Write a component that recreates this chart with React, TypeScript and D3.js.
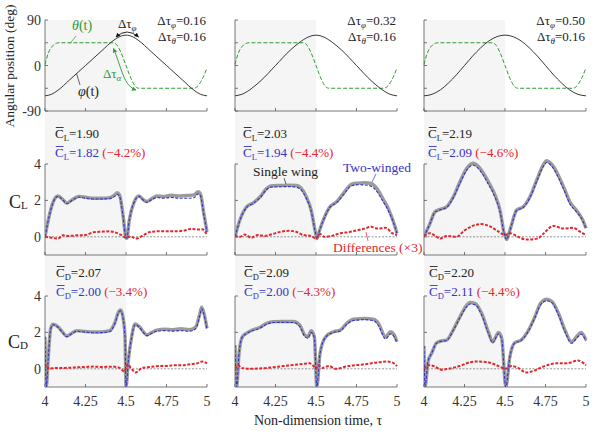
import React from 'react';
import * as d3 from 'd3';

type P = [number, number][];

// ---------- data ----------
const T_TICKS = [4, 4.25, 4.5, 4.75, 5];
const T_LABELS = ['4', '4.25', '4.5', '4.75', '5'];
const ANG_TICKS = [-90, -45, 0, 45, 90];
const ANG_LABELS = ['-90', '', '0', '', '90'];
const F_TICKS = [0, 2, 4];
const F_LABELS = ['0', '2', '4'];

const DTAU_PHI = ['0.16', '0.32', '0.50'];
const DTAU_THETA = ['0.16', '0.16', '0.16'];
const CL_SINGLE_MEAN = ['1.90', '2.03', '2.19'];
const CL_TWO_MEAN = ['1.82', '1.94', '2.09'];
const CL_PCT = ['(\u22124.2%)', '(\u22124.4%)', '(\u22124.6%)'];
const CD_SINGLE_MEAN = ['2.07', '2.09', '2.20'];
const CD_TWO_MEAN = ['2.00', '2.00', '2.11'];
const CD_PCT = ['(\u22123.4%)', '(\u22124.3%)', '(\u22124.4%)'];

const PHI_1: P = [[4,-60],[4.04,-57],[4.08,-49],[4.15,-29],[4.25,0],[4.35,29],[4.42,49],[4.46,57],[4.5,60],[4.54,57],[4.58,49],[4.65,29],[4.75,0],[4.85,-29],[4.92,-49],[4.96,-57],[5,-60]];
const PHI_2: P = [[4,-60],[4.05,-56],[4.1,-46],[4.16,-30],[4.25,0],[4.34,30],[4.4,46],[4.45,56],[4.5,60],[4.55,56],[4.6,46],[4.66,30],[4.75,0],[4.84,-30],[4.9,-46],[4.95,-56],[5,-60]];
const PHI_3: P = [[4,-60],[4.05,-57],[4.1,-48.5],[4.15,-35],[4.2,-18.5],[4.25,0],[4.3,18.5],[4.35,35],[4.4,48.5],[4.45,57],[4.5,60],[4.55,57],[4.6,48.5],[4.65,35],[4.7,18.5],[4.75,0],[4.8,-18.5],[4.85,-35],[4.9,-48.5],[4.95,-57],[5,-60]];
const THETA: P = [[4,2],[4.02,24],[4.045,38],[4.07,44],[4.09,45],[4.42,45],[4.44,42],[4.47,25],[4.5,0],[4.53,-25],[4.56,-42],[4.58,-45],[4.92,-45],[4.95,-38],[4.975,-24],[5,-5]];

const CL1_SINGLE: P = [[4,0],[4.03,1.3],[4.05,1.9],[4.08,2.24],[4.11,2.05],[4.135,1.85],[4.17,2.05],[4.21,2.22],[4.25,2.18],[4.3,2.12],[4.35,2.12],[4.4,2.15],[4.43,2.3],[4.445,2.42],[4.46,2.3],[4.48,1.3],[4.5,-0.05],[4.505,-0.08],[4.52,0.9],[4.55,1.9],[4.58,2.24],[4.605,2.05],[4.628,1.93],[4.66,2.1],[4.69,2.24],[4.73,2.22],[4.78,2.28],[4.83,2.25],[4.88,2.27],[4.92,2.3],[4.945,2.48],[4.96,2.35],[4.98,1.3],[5,0.28]];
const CL1_TWO: P = [[4,0],[4.03,1.28],[4.05,1.88],[4.08,2.22],[4.11,2.02],[4.135,1.82],[4.17,2.02],[4.21,2.18],[4.25,2.12],[4.3,2.08],[4.35,2.08],[4.4,2.1],[4.43,2.22],[4.445,2.33],[4.46,2.22],[4.48,1.25],[4.5,-0.05],[4.505,-0.07],[4.52,0.9],[4.55,1.9],[4.58,2.22],[4.605,2.02],[4.628,1.9],[4.66,2.05],[4.69,2.16],[4.73,2.12],[4.78,2.16],[4.83,2.12],[4.88,2.12],[4.92,2.15],[4.945,2.36],[4.96,2.25],[4.98,1.25],[5,0.25]];
const CL1_DIFF: P = [[4,0],[4.04,-0.05],[4.08,-0.1],[4.11,0.08],[4.15,0.05],[4.2,0.08],[4.25,0.1],[4.3,0.25],[4.35,0.28],[4.4,0.3],[4.43,0.25],[4.47,0.1],[4.5,-0.05],[4.53,0.02],[4.56,-0.1],[4.6,0.05],[4.65,0.27],[4.7,0.3],[4.75,0.3],[4.8,0.3],[4.85,0.33],[4.9,0.43],[4.95,0.4],[4.97,0.42],[5,0.1]];

const CL2_SINGLE: P = [[4,0],[4.03,0.92],[4.072,1.65],[4.113,1.87],[4.155,2.2],[4.196,2.66],[4.22,2.8],[4.28,2.82],[4.34,2.84],[4.38,2.82],[4.41,2.66],[4.44,2.2],[4.47,1.47],[4.495,0.3],[4.505,-0.1],[4.52,0.3],[4.545,0.92],[4.586,1.65],[4.628,1.93],[4.669,2.39],[4.72,2.9],[4.76,2.95],[4.8,2.97],[4.84,2.93],[4.875,2.66],[4.915,2.06],[4.946,1.56],[4.975,0.9],[5,0.2]];
const CL2_TWO: P = [[4,0],[4.03,0.9],[4.072,1.62],[4.113,1.84],[4.155,2.15],[4.196,2.6],[4.22,2.73],[4.28,2.75],[4.34,2.76],[4.38,2.72],[4.41,2.56],[4.44,2.12],[4.47,1.42],[4.495,0.3],[4.505,-0.1],[4.52,0.3],[4.545,0.9],[4.586,1.62],[4.628,1.88],[4.669,2.3],[4.72,2.8],[4.76,2.86],[4.8,2.85],[4.84,2.78],[4.875,2.5],[4.915,1.92],[4.946,1.45],[4.975,0.85],[5,0.18]];
const CL2_DIFF: P = [[4,0.05],[4.03,0],[4.06,0.12],[4.1,-0.05],[4.14,0.1],[4.18,0.05],[4.23,0.15],[4.28,0.27],[4.33,0.33],[4.37,0.3],[4.42,0.1],[4.47,0.05],[4.5,-0.1],[4.525,0.15],[4.55,0],[4.6,0.05],[4.65,0.2],[4.7,0.25],[4.75,0.35],[4.8,0.45],[4.84,0.55],[4.88,0.45],[4.93,0.5],[4.97,0.2],[5,0.1]];

const CL3_SINGLE: P = [[4,0],[4.037,0.74],[4.068,1.38],[4.099,1.51],[4.14,1.65],[4.181,2.2],[4.222,3.03],[4.264,3.76],[4.29,4.0],[4.305,4.04],[4.325,3.95],[4.346,3.76],[4.397,3.03],[4.438,2.3],[4.469,1.47],[4.495,0.2],[4.51,-0.15],[4.525,0.2],[4.54,0.65],[4.572,1.47],[4.613,1.65],[4.654,2.2],[4.696,3.12],[4.736,3.95],[4.757,4.18],[4.775,4.1],[4.8,3.85],[4.828,3.4],[4.87,2.57],[4.9,1.93],[4.94,1.47],[4.98,0.92],[5,0.47]];
const CL3_TWO: P = [[4,0],[4.037,0.72],[4.068,1.35],[4.099,1.48],[4.14,1.62],[4.181,2.15],[4.222,2.95],[4.264,3.66],[4.29,3.9],[4.305,3.93],[4.325,3.84],[4.346,3.64],[4.397,2.9],[4.438,2.18],[4.469,1.4],[4.495,0.18],[4.51,-0.15],[4.525,0.2],[4.54,0.63],[4.572,1.44],[4.613,1.62],[4.654,2.15],[4.696,3.05],[4.736,3.86],[4.757,4.08],[4.775,4.0],[4.8,3.74],[4.828,3.28],[4.87,2.45],[4.9,1.82],[4.94,1.38],[4.98,0.88],[5,0.45]];
const CL3_DIFF: P = [[4,0.05],[4.037,0.2],[4.07,0.05],[4.1,-0.1],[4.14,0.05],[4.2,0],[4.25,0.35],[4.3,0.6],[4.35,0.7],[4.4,0.6],[4.45,0.35],[4.5,0.1],[4.53,0.2],[4.57,0.05],[4.63,-0.15],[4.7,-0.1],[4.74,0.2],[4.8,0.6],[4.86,0.45],[4.92,0.5],[4.96,0.3],[5,0.1]];

const CD1_SINGLE: P = [[4,1.76],[4.008,-1],[4.02,0.6],[4.035,2.2],[4.05,2.45],[4.08,2.31],[4.11,2.0],[4.134,1.8],[4.165,1.95],[4.196,2.1],[4.25,2.05],[4.3,2.02],[4.35,2.03],[4.4,2.1],[4.43,2.5],[4.455,3.15],[4.467,3.23],[4.48,2.9],[4.494,1.76],[4.5,-1],[4.515,0.5],[4.535,1.76],[4.556,2.46],[4.586,2.28],[4.61,2.0],[4.628,1.86],[4.66,2.0],[4.69,2.13],[4.74,2.18],[4.79,2.15],[4.84,2.2],[4.89,2.15],[4.93,2.3],[4.955,3.0],[4.967,3.38],[4.98,3.1],[5,2.22]];
const CD1_TWO: P = [[4,1.76],[4.008,-1],[4.02,0.6],[4.035,2.18],[4.05,2.42],[4.08,2.28],[4.11,1.97],[4.134,1.77],[4.165,1.92],[4.196,2.06],[4.25,2.01],[4.3,1.98],[4.35,1.99],[4.4,2.05],[4.43,2.45],[4.455,3.1],[4.467,3.18],[4.48,2.85],[4.494,1.74],[4.5,-1],[4.515,0.5],[4.535,1.74],[4.556,2.42],[4.586,2.24],[4.61,1.96],[4.628,1.82],[4.66,1.95],[4.69,2.06],[4.74,2.1],[4.79,2.07],[4.84,2.1],[4.89,2.06],[4.93,2.2],[4.955,2.9],[4.967,3.3],[4.98,3.02],[5,2.18]];
const CD1_DIFF: P = [[4,0.05],[4.01,0.2],[4.025,0],[4.06,0.05],[4.12,0.05],[4.2,0.08],[4.25,0.1],[4.3,0.12],[4.35,0.1],[4.42,0.12],[4.46,0.05],[4.49,-0.15],[4.51,0.25],[4.53,0.05],[4.56,-0.2],[4.6,0.05],[4.65,0.1],[4.7,0.15],[4.75,0.15],[4.8,0.2],[4.85,0.2],[4.9,0.25],[4.94,0.3],[4.97,0.4],[5,0.3]];

const CD2_SINGLE: P = [[4,1.3],[4.01,-1],[4.025,0.85],[4.045,1.76],[4.07,1.95],[4.1,2.1],[4.155,2.28],[4.196,2.5],[4.236,2.59],[4.3,2.6],[4.36,2.6],[4.4,2.4],[4.43,1.86],[4.45,1.76],[4.47,2.1],[4.49,1.76],[4.505,-1],[4.525,0.85],[4.56,1.76],[4.61,2.04],[4.65,2.13],[4.69,2.5],[4.73,2.72],[4.8,2.77],[4.86,2.72],[4.885,2.5],[4.93,1.76],[4.96,2.04],[4.98,1.9],[5,1.49]];
const CD2_TWO: P = [[4,1.3],[4.01,-1],[4.025,0.85],[4.045,1.74],[4.07,1.92],[4.1,2.07],[4.155,2.24],[4.196,2.45],[4.236,2.54],[4.3,2.55],[4.36,2.54],[4.4,2.33],[4.43,1.78],[4.45,1.68],[4.47,2.0],[4.49,1.7],[4.505,-1],[4.525,0.85],[4.56,1.74],[4.61,2.0],[4.65,2.08],[4.69,2.44],[4.73,2.65],[4.8,2.7],[4.86,2.62],[4.885,2.38],[4.93,1.64],[4.96,1.92],[4.98,1.8],[5,1.42]];
const CD2_DIFF: P = [[4,0],[4.02,0.2],[4.04,0.05],[4.1,0],[4.2,0.05],[4.3,0.15],[4.4,0.25],[4.46,0.3],[4.49,0.1],[4.5,0],[4.515,0.2],[4.54,0.05],[4.58,0.15],[4.62,0],[4.7,0.15],[4.8,0.25],[4.88,0.35],[4.94,0.4],[4.97,0.35],[5,0.15]];

const CD3_SINGLE: P = [[4,1.25],[4.006,-1],[4.025,0.4],[4.047,0.85],[4.078,1.43],[4.11,1.54],[4.14,1.58],[4.18,2.13],[4.222,2.86],[4.264,3.5],[4.284,3.65],[4.315,3.6],[4.356,3.05],[4.397,2.04],[4.424,1.49],[4.46,2.0],[4.48,1.67],[4.505,-1],[4.53,0.66],[4.56,1.43],[4.6,1.58],[4.64,2.04],[4.68,2.77],[4.72,3.6],[4.757,3.82],[4.79,3.7],[4.83,3.05],[4.87,2.13],[4.91,1.49],[4.95,1.85],[4.97,2.0],[5,1.58]];
const CD3_TWO: P = [[4,1.25],[4.006,-1],[4.025,0.4],[4.047,0.85],[4.078,1.41],[4.11,1.52],[4.14,1.56],[4.18,2.1],[4.222,2.8],[4.264,3.42],[4.284,3.56],[4.315,3.52],[4.356,2.96],[4.397,1.96],[4.424,1.42],[4.46,1.92],[4.48,1.6],[4.505,-1],[4.53,0.66],[4.56,1.42],[4.6,1.56],[4.64,2.0],[4.68,2.72],[4.72,3.52],[4.757,3.74],[4.79,3.62],[4.83,2.96],[4.87,2.04],[4.91,1.4],[4.95,1.76],[4.97,1.9],[5,1.52]];
const CD3_DIFF: P = [[4,0],[4.03,0.2],[4.06,0.15],[4.11,-0.05],[4.15,0],[4.22,0.15],[4.28,0.35],[4.32,0.4],[4.4,0.35],[4.46,0.15],[4.5,0],[4.54,0.15],[4.58,0.05],[4.63,-0.2],[4.68,-0.1],[4.73,0.1],[4.82,0.3],[4.88,0.3],[4.95,0.45],[5,0.2]];

// ---------- layout ----------
const W = 601, H = 437;
const COL_X = [45, 235, 424];
const PW = 162;
const ROW_ANG = { top: 20, bottom: 111, domain: [-90, 90] };
const ROW_CL = { top: 164, bottom: 255, domain: [-1, 4] };
const ROW_CD = { top: 296, bottom: 387, domain: [-1, 4] };

const SERIF = "'Liberation Serif', 'Times New Roman', serif";
const C_GRAY = '#9b9b9b';
const C_BLUE = '#3434c8';
const C_RED = '#e3262b';
const C_GREEN = '#2f9a33';
const C_AXIS = '#555';

const PHIS = [PHI_1, PHI_2, PHI_3];
const CLS = [[CL1_SINGLE, CL1_TWO, CL1_DIFF], [CL2_SINGLE, CL2_TWO, CL2_DIFF], [CL3_SINGLE, CL3_TWO, CL3_DIFF]];
const CDS = [[CD1_SINGLE, CD1_TWO, CD1_DIFF], [CD2_SINGLE, CD2_TWO, CD2_DIFF], [CD3_SINGLE, CD3_TWO, CD3_DIFF]];

function xScale(c: number) {
  return d3.scaleLinear().domain([4, 5]).range([COL_X[c], COL_X[c] + PW]);
}
function yScale(row: { top: number; bottom: number; domain: number[] }) {
  return d3.scaleLinear().domain(row.domain).range([row.bottom, row.top]);
}

function Axes({ c, row, yTicks, yLabels, showX }: any) {
  const x = xScale(c);
  const y = yScale(row);
  const x0 = COL_X[c];
  return (
    <g>
      <line x1={x0} x2={x0} y1={row.top} y2={row.bottom} stroke={C_AXIS} strokeWidth={0.8} />
      <line x1={x0} x2={x0 + PW} y1={row.bottom} y2={row.bottom} stroke={C_AXIS} strokeWidth={0.8} />
      {T_TICKS.map((t, i) => (
        <g key={'xt' + i}>
          <line x1={x(t)} x2={x(t)} y1={row.bottom} y2={row.bottom - 3} stroke={C_AXIS} strokeWidth={0.8} />
          {showX && (
            <text x={x(t)} y={row.bottom + 19} textAnchor="middle" fontSize={14} fontFamily={SERIF} fill="#333">{T_LABELS[i]}</text>
          )}
        </g>
      ))}
      {yTicks.map((v: number, i: number) => (
        <g key={'yt' + i}>
          <line x1={x0} x2={x0 + 3} y1={y(v)} y2={y(v)} stroke={C_AXIS} strokeWidth={0.8} />
          {c === 0 && yLabels[i] !== '' && (
            <text x={x0 - 4} y={y(v) + 5} textAnchor="end" fontSize={14} fontFamily={SERIF} fill="#333">{yLabels[i]}</text>
          )}
        </g>
      ))}
    </g>
  );
}

function Mean({ x, y, sub, value, color, pct }: any) {
  return (
    <g>
      <line x1={x + 0.8} x2={x + 8.6} y1={y - 10.5} y2={y - 10.5} stroke={color} strokeWidth={0.9} />
      <text x={x} y={y} fontSize={13} fontFamily={SERIF} fill={color}>
        <tspan>C</tspan>
        <tspan fontSize={8.5} dy={2.5}>{sub}</tspan>
        <tspan dy={-2.5}>{'=' + value}</tspan>
        {pct && <tspan fill={C_RED}>{' ' + pct}</tspan>}
      </text>
    </g>
  );
}

function DTau({ x, y, sub, value, anchor }: any) {
  return (
    <text x={x} y={y} fontSize={13} fontFamily={SERIF} fill="#222" textAnchor={anchor}>
      <tspan>{'\u0394\u03c4'}</tspan>
      <tspan fontSize={9} dy={3} fontStyle="italic">{sub}</tspan>
      <tspan dy={-3}>{'=' + value}</tspan>
    </text>
  );
}

function ForcePanel({ c, row, data, sub }: any) {
  const x = xScale(c);
  const y = yScale(row);
  const line = d3.line<[number, number]>().x((d) => x(d[0])).y((d) => y(d[1])).curve(d3.curveMonotoneX);
  const id = `clip-${sub}-${c}`;
  return (
    <g>
      <defs>
        <clipPath id={id}>
          <rect x={COL_X[c]} y={row.top - 8} width={PW + 2} height={row.bottom - row.top + 8} />
        </clipPath>
      </defs>
      <Axes c={c} row={row} yTicks={F_TICKS} yLabels={F_LABELS} showX={sub === 'D'} />
      <line x1={x(4)} x2={x(5)} y1={y(0)} y2={y(0)} stroke="#777" strokeWidth={0.8} strokeDasharray="2,1.5" />
      <g clipPath={`url(#${id})`}>
        <path d={line(data[0]) || ''} fill="none" stroke={C_GRAY} strokeWidth={3.4} strokeLinejoin="round" />
        <path d={line(data[1]) || ''} fill="none" stroke={C_BLUE} strokeWidth={1.1} strokeDasharray="3,1.5" />
        <path d={line(data[2]) || ''} fill="none" stroke={C_RED} strokeWidth={2} strokeDasharray="3,1.5" />
      </g>
    </g>
  );
}

function AngPanel({ c }: any) {
  const x = xScale(c);
  const y = yScale(ROW_ANG);
  const line = d3.line<[number, number]>().x((d) => x(d[0])).y((d) => y(d[1])).curve(d3.curveMonotoneX);
  return (
    <g>
      <Axes c={c} row={ROW_ANG} yTicks={ANG_TICKS} yLabels={ANG_LABELS} showX={false} />
      <path d={line(THETA) || ''} fill="none" stroke={C_GREEN} strokeWidth={1} strokeDasharray="4,2" />
      <path d={line(PHIS[c]) || ''} fill="none" stroke="#222" strokeWidth={0.9} />
      <DTau x={COL_X[c] + PW - 1} y={25} sub={'\u03c6'} value={DTAU_PHI[c]} anchor="end" />
      <DTau x={COL_X[c] + PW - 1} y={41} sub={'\u03b8'} value={DTAU_THETA[c]} anchor="end" />
    </g>
  );
}

export default function App() {
  const shade = [0, 1, 2].map((c) => {
    const x = xScale(c);
    return <rect key={'s' + c} x={x(4)} y={ROW_ANG.top} width={x(4.5) - x(4)} height={ROW_CD.bottom - ROW_ANG.top} fill="#f5f5f5" />;
  });
  return (
    <svg width={W} height={H} style={{ position: 'absolute', left: 0, top: 0, background: '#fff' }} fontFamily={SERIF}>
      <defs>
        <marker id="ahK" viewBox="0 0 10 10" refX="9" refY="5" markerWidth="5" markerHeight="5" orient="auto-start-reverse">
          <path d="M0,0 L10,5 L0,10 z" fill="#111" />
        </marker>
        <marker id="ahG" viewBox="0 0 10 10" refX="9" refY="5" markerWidth="5" markerHeight="5" orient="auto-start-reverse">
          <path d="M0,0 L10,5 L0,10 z" fill={C_GREEN} />
        </marker>
      </defs>
      <rect x={0} y={0} width={W} height={H} fill="#fff" />
      {shade}
      {[0, 1, 2].map((c) => <AngPanel key={'a' + c} c={c} />)}
      {[0, 1, 2].map((c) => <ForcePanel key={'l' + c} c={c} row={ROW_CL} data={CLS[c]} sub="L" />)}
      {[0, 1, 2].map((c) => <ForcePanel key={'d' + c} c={c} row={ROW_CD} data={CDS[c]} sub="D" />)}

      {[0, 1, 2].map((c) => {
        const tx = [55, 243, 428][c];
        return (
          <g key={'m' + c}>
            <Mean x={tx} y={138} sub="L" value={CL_SINGLE_MEAN[c]} color="#222" />
            <Mean x={tx} y={157} sub="L" value={CL_TWO_MEAN[c]} color={C_BLUE} pct={CL_PCT[c]} />
            <Mean x={tx + 1} y={277} sub="D" value={CD_SINGLE_MEAN[c]} color="#222" />
            <Mean x={tx + 1} y={296} sub="D" value={CD_TWO_MEAN[c]} color={C_BLUE} pct={CD_PCT[c]} />
          </g>
        );
      })}

      <text x={72} y={30} fontSize={14} fill={C_GREEN}><tspan fontStyle="italic">{'\u03b8'}</tspan>(t)</text>
      <line x1={76} y1={36} x2={70} y2={43.5} stroke={C_GREEN} strokeWidth={0.7} />
      <text x={78} y={96} fontSize={14} fill="#222"><tspan fontStyle="italic">{'\u03c6'}</tspan>(t)</text>
      <line x1={80} y1={85} x2={76.5} y2={73.5} stroke="#222" strokeWidth={0.7} />
      <text x={118} y={28} fontSize={13} fill="#222">
        <tspan>{'\u0394\u03c4'}</tspan>
        <tspan fontSize={9} dy={3} fontStyle="italic">{'\u03c6'}</tspan>
      </text>
      <path d="M116,37 Q127,27 138.5,37" fill="none" stroke="#111" strokeWidth={0.9} markerStart="url(#ahK)" markerEnd="url(#ahK)" />
      <text x={103} y={78} fontSize={13} fill={C_GREEN}>
        <tspan>{'\u0394\u03c4'}</tspan>
        <tspan fontSize={9} dy={3} fontStyle="italic">{'\u03b1'}</tspan>
      </text>
      <path d="M113.5,48.5 C117,57 119,64 122,72 C125,80 128,87 136,90" fill="none" stroke={C_GREEN} strokeWidth={0.9} markerStart="url(#ahG)" markerEnd="url(#ahG)" />

      <text x={253} y={176} fontSize={13.5} fill="#222">Single wing</text>
      <line x1={284} y1={178} x2={286} y2={184} stroke="#222" strokeWidth={0.7} />
      <text x={343} y={172} fontSize={13.5} fill={C_BLUE}>Two-winged</text>
      <line x1={376} y1={174} x2={372} y2={182} stroke={C_BLUE} strokeWidth={0.7} />
      <text x={333} y={251.5} fontSize={13.5} fill={C_RED}>Differences (×3)</text>
      <line x1={368} y1={241} x2={366} y2={232} stroke={C_RED} strokeWidth={0.7} />

      <text transform="translate(14,66) rotate(-90)" textAnchor="middle" fontSize={13.5} fill="#222">Angular position (deg)</text>
      <text x={9} y={208} fontSize={18} fill="#222">C<tspan fontSize={11} dy={1}>L</tspan></text>
      <text x={8} y={348} fontSize={18} fill="#222">C<tspan fontSize={11} dy={1}>D</tspan></text>
      <text x={318} y={425} textAnchor="middle" fontSize={14} fill="#222">Non-dimension time, τ</text>
    </svg>
  );
}
